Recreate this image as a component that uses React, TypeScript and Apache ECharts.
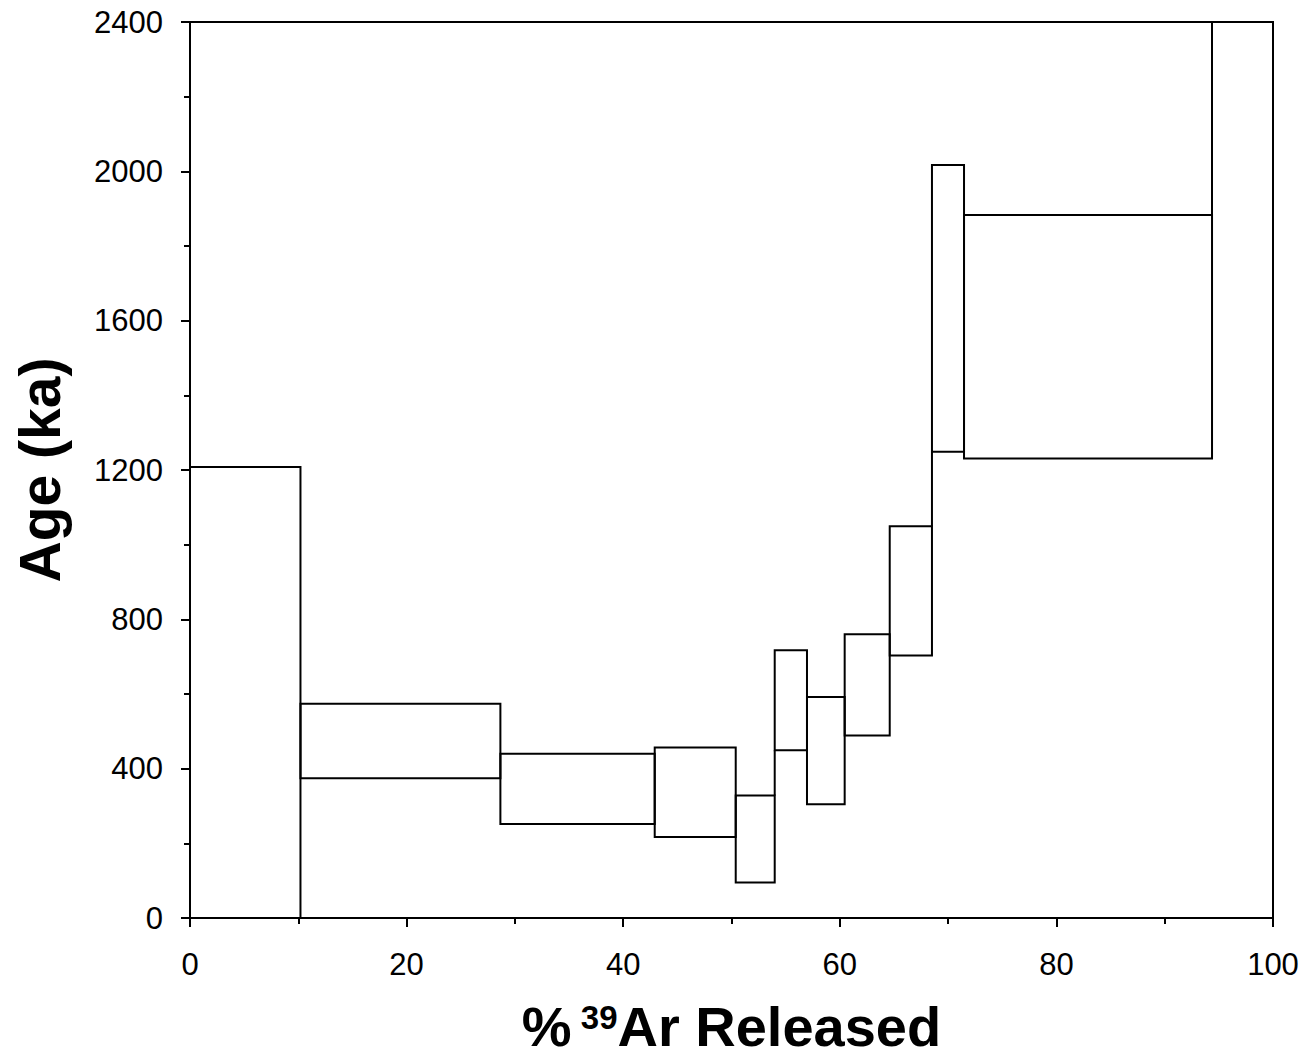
import React, { useEffect, useRef } from "react";
import * as echarts from "echarts";

// Cumulative % 39Ar boundaries of the heating steps
const stepBounds = [0, 10.2, 28.66, 42.91, 50.39, 53.99, 56.97, 60.45, 64.61, 68.51, 71.47, 94.37, 100];
// Age envelope (ka) of each step: lower and upper (±error)
const ageLow = [-300, 374, 252, 217, 95, 449, 305, 489, 703, 1249, 1231, 2500];
const ageHigh = [1208, 574, 440, 457, 328, 717, 592, 760, 1049, 2017, 1883, 3200];

const xTicks = { min: 0, max: 100, interval: 20 };
const yTicks = { min: 0, max: 2400, interval: 400 };

const FONT = "'Liberation Sans', Arial, Helvetica, sans-serif";

export default function App() {
  const ref = useRef<HTMLDivElement>(null);

  useEffect(() => {
    document.body.style.margin = "0";
    if (!ref.current) return;
    const chart = echarts.init(ref.current, undefined, { renderer: "svg" });

    const data = ageLow.map((lo, i) => [stepBounds[i], stepBounds[i + 1], lo, ageHigh[i]]);

    const renderItem = (params: any, api: any) => {
      const i = params.dataIndex;
      const x0 = api.value(0);
      const x1 = api.value(1);
      const lo = api.value(2);
      const hi = api.value(3);
      const pTL = api.coord([x0, hi]);
      const pBR = api.coord([x1, lo]);
      const children: any[] = [
        {
          type: "rect",
          shape: { x: pTL[0], y: pTL[1], width: pBR[0] - pTL[0], height: pBR[1] - pTL[1] },
          style: { fill: "none", stroke: "#000", lineWidth: 2 },
        },
      ];
      if (i > 0) {
        const pLo = ageLow[i - 1];
        const pHi = ageHigh[i - 1];
        let a: number | null = null;
        let b: number | null = null;
        if (pHi < lo) { a = pHi; b = lo; }
        else if (hi < pLo) { a = hi; b = pLo; }
        if (a !== null && b !== null) {
          const q1 = api.coord([x0, a]);
          const q2 = api.coord([x0, b]);
          children.push({
            type: "line",
            shape: { x1: q1[0], y1: q1[1], x2: q2[0], y2: q2[1] },
            style: { stroke: "#000", lineWidth: 2 },
          });
        }
      }
      return { type: "group", children };
    };

    chart.setOption({
      animation: false,
      backgroundColor: "#fff",
      grid: {
        left: 190,
        right: 31,
        top: 22,
        bottom: 140,
        outerBoundsMode: "none",
        containLabel: false,
        show: true,
        borderColor: "#000",
        borderWidth: 2,
        backgroundColor: "transparent",
      },
      xAxis: {
        type: "value",
        min: xTicks.min,
        max: xTicks.max,
        interval: xTicks.interval,
        axisLine: { show: true, lineStyle: { color: "#000", width: 2 } },
        axisTick: { show: true, length: 9, lineStyle: { color: "#000", width: 2 } },
        minorTick: { show: true, splitNumber: 2, length: 6, lineStyle: { color: "#000", width: 2 } },
        splitLine: { show: false },
        axisLabel: { color: "#000", fontSize: 31, fontFamily: FONT, margin: 31, formatter: (v: number) => String(v) },
        name: "{a|%}{b| 39}{a|Ar Released}",
        nameLocation: "middle",
        nameGap: 83,
        nameTextStyle: {
          color: "#000",
          rich: {
            a: { fontSize: 56, lineHeight: 50, fontWeight: "bold", fontFamily: FONT, color: "#000" },
            b: { fontSize: 33, lineHeight: 30, fontWeight: "bold", fontFamily: FONT, color: "#000", verticalAlign: "top" },
          },
        },
      },
      yAxis: {
        type: "value",
        min: yTicks.min,
        max: yTicks.max,
        interval: yTicks.interval,
        axisLine: { show: true, lineStyle: { color: "#000", width: 2 } },
        axisTick: { show: true, length: 9, lineStyle: { color: "#000", width: 2 } },
        minorTick: { show: true, splitNumber: 2, length: 6, lineStyle: { color: "#000", width: 2 } },
        splitLine: { show: false },
        axisLabel: { color: "#000", fontSize: 31, fontFamily: FONT, margin: 27, formatter: (v: number) => String(v) },
        name: "Age (ka)",
        nameLocation: "middle",
        nameRotate: 90,
        nameGap: 122,
        nameTextStyle: { color: "#000", fontSize: 57, fontWeight: "bold", fontFamily: FONT },
      },
      series: [
        {
          type: "custom",
          clip: true,
          renderItem,
          data,
          encode: { x: [0, 1], y: [2, 3] },
          silent: true,
        },
      ],
    });

    return () => chart.dispose();
  }, []);

  return <div ref={ref} style={{ width: "1304px", height: "1058px" }} />;
}
